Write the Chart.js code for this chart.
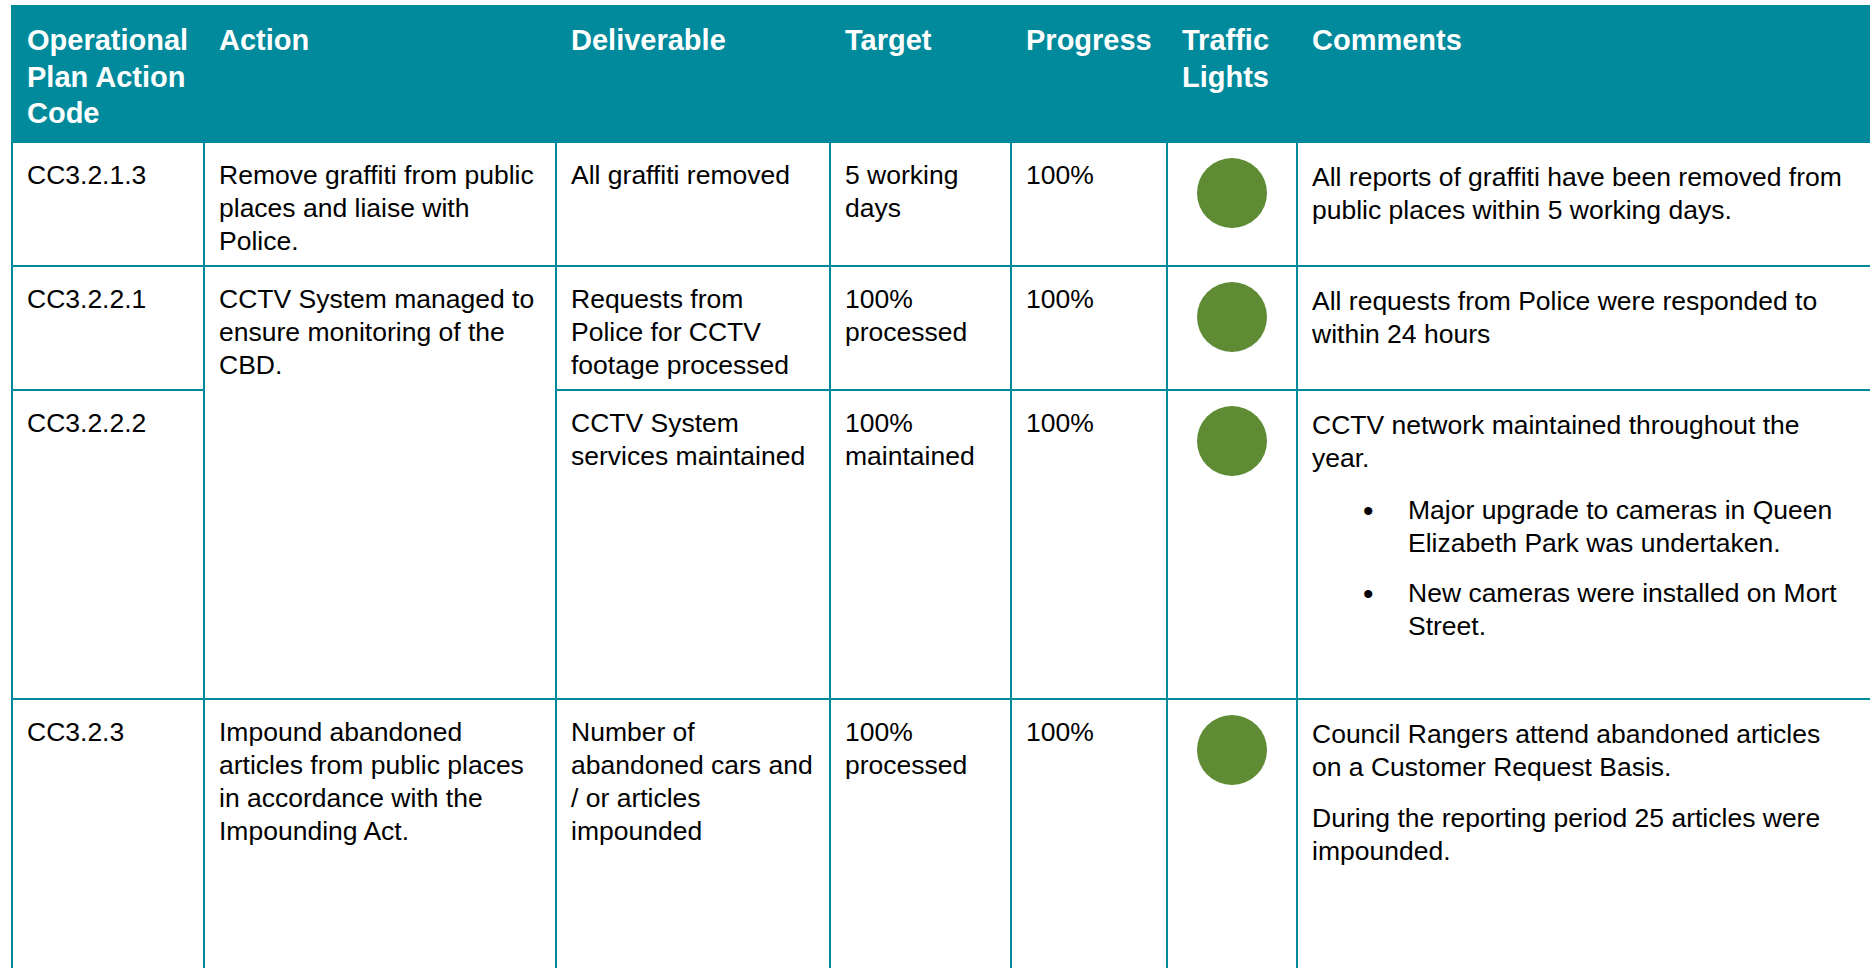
<!DOCTYPE html>
<html>
<head>
<meta charset="utf-8">
<script src="https://cdn.jsdelivr.net/npm/chart.js@4.4.1/dist/chart.umd.min.js"></script>
<style>
html, body { margin: 0; padding: 0; background: #fff; overflow: hidden; width: 1870px; height: 968px; }
table {
    position: absolute; left: 11px; top: 5px;
    border-collapse: collapse; table-layout: fixed; width: 1880px;
    font-family: "Liberation Sans", Arial, sans-serif; font-size: 26.5px; line-height: 33px; color: #000;
}
th {
    background: #008a9b; color: #fff; font-weight: bold; font-size: 29px; line-height: 36.5px;
    text-align: left; vertical-align: top; padding: 15px 8px 0 14px; border: 2px solid #008a9b;
    white-space: pre-line;
}
td { border: 2px solid #008a9b; vertical-align: top; padding: 16px 8px 0 14px; white-space: pre-line; }
td.light { padding: 0; }
td.light canvas { display: block; }
.para { position: relative; top: 2px; }
.para + .para { margin-top: 18px; }
.bullet { position: relative; padding-left: 96px; margin-top: 21px; }
.bullet + .bullet { margin-top: 17px; }
.bullet .dot { position: absolute; left: 51px; top: 0; font-size: 30px; }
</style>
</head>
<body>
<table id="tbl">
    <colgroup>
        <col style="width:192px"><col style="width:352px"><col style="width:274px"><col style="width:181px">
        <col style="width:156px"><col style="width:130px"><col style="width:595px">
    </colgroup>
    <thead><tr id="head" style="height:136px"></tr></thead>
    <tbody id="body"></tbody>
</table>
<script>
// Column headings
var headers = ['Operational\nPlan Action\nCode', 'Action', 'Deliverable', 'Target', 'Progress', 'Traffic\nLights', 'Comments'];

// Row data
var codes = ['CC3.2.1.3', 'CC3.2.2.1', 'CC3.2.2.2', 'CC3.2.3'];
var actions = [
    'Remove graffiti from public\nplaces and liaise with\nPolice.',
    'CCTV System managed to\nensure monitoring of the\nCBD.',
    null,
    'Impound abandoned\narticles from public places\nin accordance with the\nImpounding Act.'
];
var actionSpans = [1, 2, 0, 1];
var deliverables = [
    'All graffiti removed',
    'Requests from\nPolice for CCTV\nfootage processed',
    'CCTV System\nservices maintained',
    'Number of\nabandoned cars and\n/ or articles\nimpounded'
];
var targets = ['5 working\ndays', '100%\nprocessed', '100%\nmaintained', '100%\nprocessed'];
var progress = ['100%', '100%', '100%', '100%'];
var trafficLights = ['Green', 'Green', 'Green', 'Green'];
var comments = [
    ['All reports of graffiti have been removed from\npublic places within 5 working days.'],
    ['All requests from Police were responded to\nwithin 24 hours'],
    ['CCTV network maintained throughout the\nyear.'],
    ['Council Rangers attend abandoned articles\non a Customer Request Basis.', 'During the reporting period 25 articles were\nimpounded.']
];
var commentBullets = [
    [],
    [],
    ['Major upgrade to cameras in Queen\nElizabeth Park was undertaken.', 'New cameras were installed on Mort\nStreet.'],
    []
];
var rowHeights = [124, 124, 309, 300];

var lightColours = { Green: '#5f8b35', Amber: '#f0a30a', Red: '#c0392b' };

var head = document.getElementById('head');
headers.forEach(function (h) {
    var th = document.createElement('th');
    th.textContent = h;
    head.appendChild(th);
});

function cell(tr, text) {
    var td = document.createElement('td');
    td.textContent = text;
    tr.appendChild(td);
    return td;
}

var lightCells = [];
var body = document.getElementById('body');
codes.forEach(function (code, i) {
    var tr = document.createElement('tr');
    tr.style.height = rowHeights[i] + 'px';
    cell(tr, code);
    if (actionSpans[i] > 0) {
        var a = cell(tr, actions[i]);
        a.rowSpan = actionSpans[i];
    }
    cell(tr, deliverables[i]);
    cell(tr, targets[i]);
    cell(tr, progress[i]);
    var lt = cell(tr, '');
    lt.className = 'light';
    lightCells.push(lt);

    var td = document.createElement('td');
    comments[i].forEach(function (p) {
        var d = document.createElement('div');
        d.className = 'para';
        d.textContent = p;
        td.appendChild(d);
    });
    commentBullets[i].forEach(function (b) {
        var d = document.createElement('div');
        d.className = 'bullet';
        var dot = document.createElement('span');
        dot.className = 'dot';
        dot.textContent = '\u2022';
        d.appendChild(dot);
        d.appendChild(document.createTextNode(b));
        td.appendChild(d);
    });
    tr.appendChild(td);
    body.appendChild(tr);
});

// Traffic light dots, one small scatter chart per cell
lightCells.forEach(function (td, i) {
    var canvas = document.createElement('canvas');
    canvas.width = td.clientWidth;
    canvas.height = 100;
    td.appendChild(canvas);
    new Chart(canvas.getContext('2d'), {
        type: 'scatter',
        data: {
            datasets: [{
                label: trafficLights[i],
                data: [{ x: 0, y: 0 }],
                backgroundColor: lightColours[trafficLights[i]],
                borderWidth: 0,
                pointRadius: 35,
                pointHoverRadius: 35,
                clip: false
            }]
        },
        options: {
            responsive: false,
            animation: false,
            events: [],
            layout: { padding: 0, autoPadding: false },
            plugins: { legend: { display: false }, tooltip: { enabled: false } },
            scales: {
                x: { display: false, min: -1, max: 1 },
                y: { display: false, min: -1, max: 1 }
            }
        }
    });
});
</script>
</body>
</html>
